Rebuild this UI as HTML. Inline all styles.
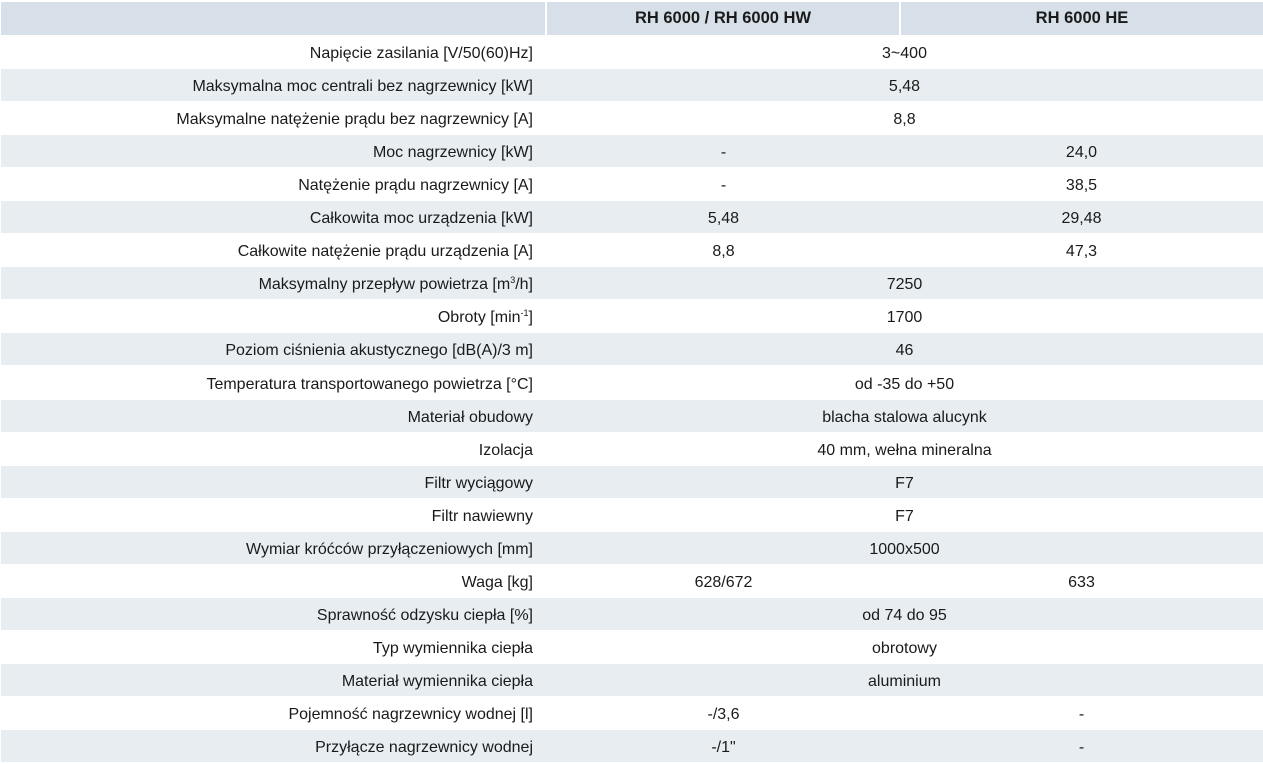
<!DOCTYPE html>
<html><head><meta charset="utf-8"><style>
body{margin:0;width:1263px;height:763px;background:#fff;font-family:"Liberation Sans",sans-serif;font-size:16px;color:#1a1a1a;overflow:hidden}
.r{position:absolute;left:1px;width:1262px;height:32px}
.s{background:#e8edf1}
.t{position:absolute;top:1px;height:32px;line-height:33px;white-space:nowrap}
.l{right:730px;text-align:right}
.c1{left:545px;width:355px;text-align:center}
.c2{left:899px;width:363px;text-align:center}
.cs{left:545px;width:717px;text-align:center}
.h{position:absolute;top:2px;height:33px;background:#d7e0e8;line-height:33px;font-weight:bold;text-align:center;font-size:16.5px}
sup{font-size:9px;line-height:0;vertical-align:0;position:relative;top:-6px}
</style></head><body>
<div class="h" style="left:1px;width:544px"></div>
<div class="h" style="left:547px;width:352px">RH 6000 / RH 6000 HW</div>
<div class="h" style="left:901px;width:362px">RH 6000 HE</div>
<div id="rows"></div>
<script>
const d=[
["Napięcie zasilania [V/50(60)Hz]","3~400"],
["Maksymalna moc centrali bez nagrzewnicy [kW]","5,48"],
["Maksymalne natężenie prądu bez nagrzewnicy [A]","8,8"],
["Moc nagrzewnicy [kW]","-","24,0"],
["Natężenie prądu nagrzewnicy [A]","-","38,5"],
["Całkowita moc urządzenia [kW]","5,48","29,48"],
["Całkowite natężenie prądu urządzenia [A]","8,8","47,3"],
["Maksymalny przepływ powietrza [m<sup>3</sup>/h]","7250"],
["Obroty [min<sup>-1</sup>]","1700"],
["Poziom ciśnienia akustycznego [dB(A)/3 m]","46"],
["Temperatura transportowanego powietrza [°C]","od -35 do +50"],
["Materiał obudowy","blacha stalowa alucynk"],
["Izolacja","40 mm, wełna mineralna"],
["Filtr wyciągowy","F7"],
["Filtr nawiewny","F7"],
["Wymiar króćców przyłączeniowych [mm]","1000x500"],
["Waga [kg]","628/672","633"],
["Sprawność odzysku ciepła [%]","od 74 do 95"],
["Typ wymiennika ciepła","obrotowy"],
["Materiał wymiennika ciepła","aluminium"],
["Pojemność nagrzewnicy wodnej [l]","-/3,6","-"],
["Przyłącze nagrzewnicy wodnej","-/1\"","-"]];
let h="";
d.forEach((r,i)=>{const y=36+i*33.05;
h+=`<div class="r${i%2?' s':''}" style="top:${y}px"><div class="t l">${r[0]}</div>`+
(r.length==2?`<div class="t cs">${r[1]}</div>`:`<div class="t c1">${r[1]}</div><div class="t c2">${r[2]}</div>`)+`</div>`;});
document.getElementById("rows").innerHTML=h;
</script>
</body></html>
